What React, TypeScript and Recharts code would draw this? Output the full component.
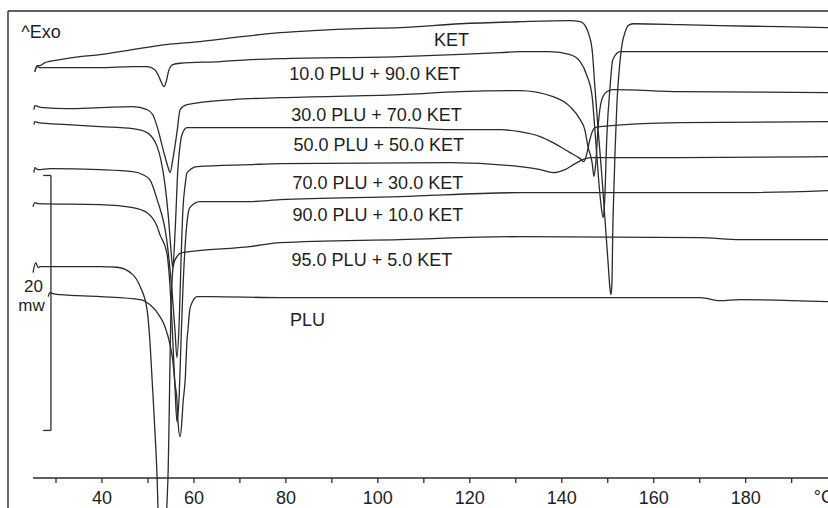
import React from 'react';
import { LineChart, Line, XAxis, YAxis, ReferenceLine, ReferenceDot } from 'recharts';

// DSC thermograms: temperature (°C) vs heat flow (mW), each curve with its own baseline offset
const ket: [number, number][] = [
  [25.4, 31.84], [25.9, 32.31], [26.5, 32.31], [27.6, 32.55], [30.9, 32.78], [35.2, 33.02], [39.6, 33.18],
  [46.7, 33.57], [53.9, 33.96], [61.3, 34.2], [68.5, 34.51], [78.7, 34.9], [85.9, 35.06], [96.1, 35.22],
  [104.8, 35.29], [117.9, 35.6], [130.9, 35.76], [141.8, 35.84], [144.0, 35.76], [145.2, 35.37], [145.9, 34.75],
  [146.6, 33.57], [147.2, 30.67], [147.9, 27.29], [148.7, 23.76], [149.4, 20.24], [150.1, 16.71], [150.5, 14.75],
  [150.7, 14.35], [150.9, 15.14], [151.1, 19.45], [151.4, 23.37], [151.6, 25.73], [152.0, 29.41], [152.5, 32.0],
  [153.1, 33.96], [153.8, 34.98], [154.4, 35.45], [155.5, 35.6], [165.7, 35.53], [174.4, 35.45], [187.5, 35.37],
  [197.9, 35.29],
];
const plu10ket90: [number, number][] = [
  [25.4, 31.84], [25.9, 32.24], [26.5, 32.16], [32.4, 32.16], [39.6, 32.16], [46.7, 32.24], [49.8, 32.24],
  [51.5, 32.0], [52.2, 31.6], [52.8, 31.1], [53.5, 30.67], [54.0, 31.1], [54.5, 31.9], [55.4, 32.4], [57.0, 32.5],
  [65.7, 32.63], [72.2, 32.78], [78.7, 32.86], [104.8, 33.02], [126.6, 33.33], [130.9, 33.41], [137.4, 33.41],
  [141.8, 33.18], [144.0, 32.63], [145.5, 31.5], [146.6, 29.9], [147.2, 27.29], [147.9, 23.9], [148.5, 21.5],
  [149.0, 20.39], [149.3, 21.5], [149.8, 26.75], [150.5, 30.67], [151.1, 32.78], [152.7, 33.41], [165.7, 33.41],
  [197.9, 33.41],
];
const plu30ket70: [number, number][] = [
  [25.2, 28.86], [25.4, 29.18], [26.1, 29.1], [27.2, 29.02], [32.4, 28.94], [39.6, 29.02], [46.7, 29.1],
  [49.8, 28.86], [51.0, 28.5], [52.0, 27.53], [53.3, 25.73], [54.4, 24.31], [54.8, 23.92], [55.4, 24.94],
  [56.3, 27.06], [57.0, 28.86], [58.5, 29.25], [68.5, 29.65], [78.7, 29.8], [104.8, 30.04], [117.9, 30.27],
  [130.9, 30.35], [138.1, 29.88], [141.8, 29.1], [144.0, 28.08], [145.0, 27.29], [145.7, 25.96], [146.6, 24.71],
  [147.0, 23.61], [147.4, 24.71], [147.9, 27.53], [148.7, 29.65], [149.8, 30.27], [151.1, 30.43], [165.7, 30.27],
  [197.9, 30.2],
];
const plu50ket50: [number, number][] = [
  [25.2, 27.69], [25.4, 27.92], [26.1, 27.84], [32.4, 27.69], [39.6, 27.53], [46.7, 27.37], [49.8, 27.06],
  [52.0, 25.96], [52.8, 24.94], [53.7, 22.98], [54.4, 20.63], [55.0, 17.88], [55.4, 16.47], [55.9, 19.29],
  [56.5, 24.16], [57.0, 26.12], [57.4, 26.9], [58.5, 27.45], [72.2, 27.45], [104.8, 27.45], [115.7, 27.29],
  [126.6, 27.29], [130.9, 27.14], [135.3, 26.75], [138.1, 26.27], [141.8, 25.49], [144.0, 25.02], [144.8, 24.78],
  [145.5, 25.49], [146.1, 26.51], [147.2, 27.45], [148.3, 27.53], [165.7, 27.84], [197.9, 27.92],
];
const plu70ket30: [number, number][] = [
  [25.2, 23.92], [25.4, 24.31], [26.1, 24.16], [28.7, 24.24], [39.6, 24.16], [46.7, 24.0], [48.9, 23.76],
  [50.4, 23.37], [52.0, 21.8], [54.1, 18.59], [55.2, 14.75], [55.9, 11.45], [56.3, 9.41], [56.8, 12.31],
  [57.2, 17.1], [57.6, 21.02], [58.1, 23.0], [58.5, 23.92], [60.7, 24.39], [72.2, 24.55], [78.7, 24.63],
  [115.7, 24.71], [130.9, 24.39], [135.3, 24.16], [138.1, 23.92], [140.7, 24.16], [142.9, 24.63], [144.6, 24.94],
  [146.1, 25.1], [165.7, 25.1], [197.9, 25.18],
];
const plu90ket10: [number, number][] = [
  [25.0, 21.25], [25.4, 21.57], [26.1, 21.49], [39.6, 21.41], [46.7, 21.18], [49.8, 20.78], [52.0, 19.69],
  [52.6, 19.06], [54.1, 17.65], [54.8, 14.98], [55.4, 10.82], [55.9, 6.9], [56.3, 4.39], [56.8, 6.51],
  [57.2, 10.82], [57.6, 14.75], [58.1, 18.27], [58.7, 20.63], [59.1, 21.18], [61.3, 21.65], [72.2, 21.65],
  [78.7, 21.8], [104.8, 22.04], [130.9, 22.35], [165.7, 22.35], [178.8, 22.35], [197.9, 22.51],
];
const plu95ket5: [number, number][] = [
  [25.0, 16.08], [25.6, 16.86], [26.1, 16.47], [26.5, 16.55], [29.3, 16.55], [39.6, 16.55], [43.3, 16.5],
  [46.7, 15.92], [48.3, 14.98], [49.8, 13.18], [50.4, 10.82], [50.9, 7.69], [51.5, 3.76],
  [52.0, -0.16], [52.2, -2.6], [53.1, -8.0], [53.9, -4.86], [54.1, -2.35], [54.4, 0.63], [54.6, 4.55],
  [54.8, 9.25], [55.0, 13.18], [55.2, 15.1], [55.4, 16.31], [55.9, 17.1], [57.4, 17.65], [72.2, 18.12],
  [78.7, 18.43], [104.8, 18.67], [130.9, 18.9], [170.1, 18.82], [178.8, 18.67], [197.9, 18.67],
];
const plu: [number, number][] = [
  [28.3, 14.2], [28.7, 14.51], [29.3, 14.43], [30.9, 14.35], [39.6, 14.2], [48.3, 13.96], [50.4, 13.57],
  [52.6, 12.63], [53.7, 11.84], [54.8, 10.43], [55.4, 9.18], [55.9, 7.29], [56.3, 6.12], [56.5, 4.55],
  [57.0, 3.22], [57.4, 4.55], [57.6, 5.73], [58.1, 7.69], [58.5, 10.82], [58.7, 11.61], [59.1, 13.18],
  [59.6, 13.73], [60.7, 14.2], [63.5, 14.2], [78.7, 14.12], [104.8, 14.12], [130.9, 14.12], [170.1, 14.12],
  [174.4, 13.88], [178.8, 13.96], [197.9, 13.8],
];

const series = [
  { name: 'KET', points: ket },
  { name: '10.0 PLU + 90.0 KET', points: plu10ket90 },
  { name: '30.0 PLU + 70.0 KET', points: plu30ket70 },
  { name: '50.0 PLU + 50.0 KET', points: plu50ket50 },
  { name: '70.0 PLU + 30.0 KET', points: plu70ket30 },
  { name: '90.0 PLU + 10.0 KET', points: plu90ket10 },
  { name: '95.0 PLU + 5.0 KET', points: plu95ket5 },
  { name: 'PLU', points: plu },
];

const tempTicks = [30, 40, 50, 60, 70, 80, 90, 100, 110, 120, 130, 140, 150, 160, 170, 180, 190];

// 20 mW scale bar
const scaleBar = { t: 28.9, tickFrom: 27.2, bottom: 3.7, span: 20 };

// text annotations, in chart units
const curveLabels = [
  { text: 'KET', t: 116.0, v: 34.35 },
  { text: '10.0 PLU + 90.0 KET', t: 99.3, v: 31.65 },
  { text: '30.0 PLU + 70.0 KET', t: 99.7, v: 28.47 },
  { text: '50.0 PLU + 50.0 KET', t: 100.2, v: 26.12 },
  { text: '70.0 PLU + 30.0 KET', t: 100.0, v: 23.14 },
  { text: '90.0 PLU + 10.0 KET', t: 100.0, v: 20.63 },
  { text: '95.0 PLU + 5.0 KET', t: 98.7, v: 17.1 },
  { text: 'PLU', t: 84.7, v: 12.39 },
  { text: '^Exo', t: 26.74, v: 34.99 },
  { text: '°C', t: 197.0, v: -1.49 },
];
const scaleLabels = [
  { text: '20', t: 25.1, v: 15.02 },
  { text: 'mw', t: 24.67, v: 13.57 },
];

const X_DOMAIN: [number, number] = [19.56, 197.9];
const AXIS_DOMAIN: [number, number] = [25.0, 197.9];
const Y_DOMAIN: [number, number] = [-9.6, 36.6];
const INK = '#2b2b2b';

const App: React.FC = () => {
  const toRows = (pts: [number, number][]) => pts.map(([t, v]) => ({ t, v }));
  const tickRows = tempTicks.map((t) => ({ t }));
  return (
    <div
      style={{
        position: 'absolute', left: 0, top: 0, width: 828, height: 508, overflow: 'hidden',
        background: '#fff', fontFamily: '"Liberation Sans", Arial, Helvetica, sans-serif',
      }}
    >
      <div style={{ position: 'absolute', left: 0, top: 0 }}>
        <LineChart width={828} height={600} margin={{ top: 11, right: 0, bottom: 0, left: 8 }}>
          <XAxis hide type="number" dataKey="t" domain={X_DOMAIN} allowDataOverflow />
          <YAxis hide type="number" domain={Y_DOMAIN} allowDataOverflow />
          <ReferenceLine x={X_DOMAIN[0]} stroke={INK} strokeWidth={1.4} />
          <ReferenceLine y={Y_DOMAIN[1]} stroke={INK} strokeWidth={1.4} />
          <ReferenceLine
            segment={[{ x: scaleBar.t, y: scaleBar.bottom }, { x: scaleBar.t, y: scaleBar.bottom + scaleBar.span }]}
            stroke={INK} strokeWidth={1.3}
          />
          <ReferenceLine
            segment={[{ x: scaleBar.tickFrom, y: scaleBar.bottom + scaleBar.span }, { x: scaleBar.t, y: scaleBar.bottom + scaleBar.span }]}
            stroke={INK} strokeWidth={1.3}
          />
          <ReferenceLine
            segment={[{ x: scaleBar.tickFrom, y: scaleBar.bottom }, { x: scaleBar.t, y: scaleBar.bottom }]}
            stroke={INK} strokeWidth={1.3}
          />
          {series.map((s) => (
            <Line
              key={s.name}
              data={toRows(s.points)}
              dataKey="v"
              type="monotone"
              stroke={INK}
              strokeWidth={1.3}
              dot={false}
              isAnimationActive={false}
            />
          ))}
          {curveLabels.map((l) => (
            <ReferenceDot
              key={l.text}
              x={l.t}
              y={l.v}
              r={1}
              fill="none"
              stroke="none"
              ifOverflow="visible"
              label={{ value: l.text, position: 'center', fill: '#1e1e1e', fontSize: 18 }}
            />
          ))}
          {scaleLabels.map((l) => (
            <ReferenceDot
              key={l.text}
              x={l.t}
              y={l.v}
              r={1}
              fill="none"
              stroke="none"
              ifOverflow="visible"
              label={{ value: l.text, position: 'center', fill: '#1e1e1e', fontSize: 17 }}
            />
          ))}
        </LineChart>
      </div>
      <div style={{ position: 'absolute', left: 0, top: 0 }}>
        <LineChart width={828} height={508} margin={{ top: 11, right: 0, bottom: 0, left: 33 }} data={tickRows}>
          <XAxis
            type="number"
            dataKey="t"
            domain={AXIS_DOMAIN}
            allowDataOverflow
            ticks={tempTicks}
            interval={0}
            height={30}
            tickSize={5}
            tickMargin={8}
            tickFormatter={(v: number) => (v % 20 === 0 ? String(v) : '')}
            axisLine={{ stroke: INK, strokeWidth: 1.5 }}
            tickLine={{ stroke: INK, strokeWidth: 1.3 }}
            tick={{ fill: '#1e1e1e', fontSize: 18 }}
          />
        </LineChart>
      </div>
    </div>
  );
};

export default App;
